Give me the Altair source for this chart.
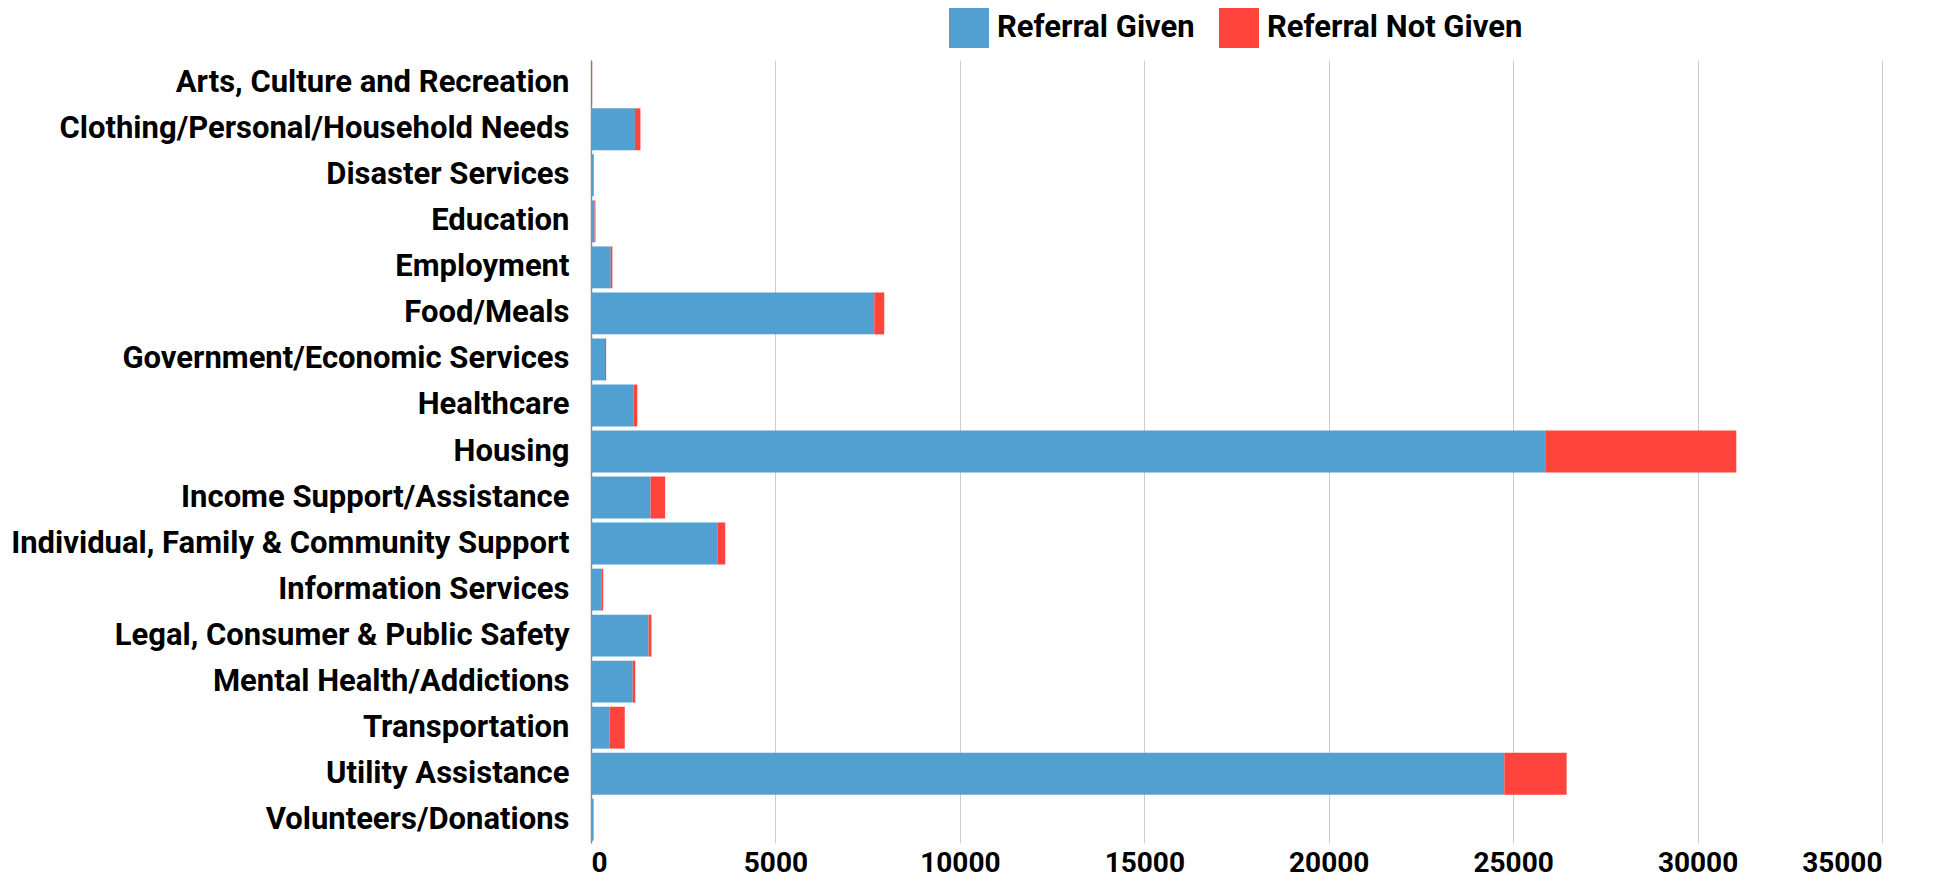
import altair as alt
import pandas as pd

categories = [
    "Arts, Culture and Recreation",
    "Clothing/Personal/Household Needs",
    "Disaster Services",
    "Education",
    "Employment",
    "Food/Meals",
    "Government/Economic Services",
    "Healthcare",
    "Housing",
    "Income Support/Assistance",
    "Individual, Family & Community Support",
    "Information Services",
    "Legal, Consumer & Public Safety",
    "Mental Health/Addictions",
    "Transportation",
    "Utility Assistance",
    "Volunteers/Donations",
]
referral_given = [10, 1190, 65, 95, 535, 7680, 380, 1155, 25870, 1615, 3425, 280, 1560, 1130, 505, 24760, 55]
referral_not_given = [20, 150, 15, 25, 45, 270, 30, 100, 5180, 395, 215, 50, 80, 70, 410, 1690, 15]
series = ["Referral Given", "Referral Not Given"]
colors = ["#529fd1", "#ff443d"]
x_ticks = [0, 5000, 10000, 15000, 20000, 25000, 30000, 35000]

rows = []
for c, g, n in zip(categories, referral_given, referral_not_given):
    rows.append({"Category": c, "Series": series[0], "Value": g, "order": 0})
    rows.append({"Category": c, "Series": series[1], "Value": n, "order": 1})
df = pd.DataFrame(rows)

FONT = "Roboto"

chart = alt.Chart(df).mark_bar().encode(
    y=alt.Y(
        "Category:N",
        sort=categories,
        title=None,
        scale=alt.Scale(paddingInner=0.09, paddingOuter=0.05),
        axis=alt.Axis(
            labelFont=FONT,
            labelFontSize=31,
            labelFontWeight="bold",
            labelColor="#000000",
            labelLimit=900,
            labelPadding=22,
            ticks=False,
            domain=True,
            domainColor="#888888",
            domainWidth=1.5,
            grid=False,
        ),
    ),
    x=alt.X(
        "Value:Q",
        stack="zero",
        title=None,
        scale=alt.Scale(domain=[0, 35000], nice=False),
        axis=alt.Axis(
            values=x_ticks,
            format="d",
            labelFont=FONT,
            labelFontSize=28,
            labelFontWeight="bold",
            labelColor="#000000",
            labelPadding=6,
            ticks=False,
            domain=False,
            grid=True,
            gridColor="#cccccc",
            gridWidth=1,
        ),
    ),
    color=alt.Color(
        "Series:N",
        scale=alt.Scale(domain=series, range=colors),
        legend=alt.Legend(
            title=None,
            orient="none",
            direction="horizontal",
            legendX=358,
            legendY=-52,
            symbolType="square",
            symbolSize=1600,
            symbolStrokeWidth=0,
            symbolOpacity=1,
            labelFont=FONT,
            labelFontSize=31,
            labelFontWeight="bold",
            labelColor="#000000",
            labelOffset=8,
            columnPadding=24,
            labelLimit=500,
        ),
    ),
    order=alt.Order("order:Q"),
).properties(
    width=1291,
    height=783,
    padding={"left": 2, "top": 0, "right": 5, "bottom": 5},
).configure_view(
    stroke=None
)

chart.save("out.html", embed_options={"renderer": "svg", "actions": False})
